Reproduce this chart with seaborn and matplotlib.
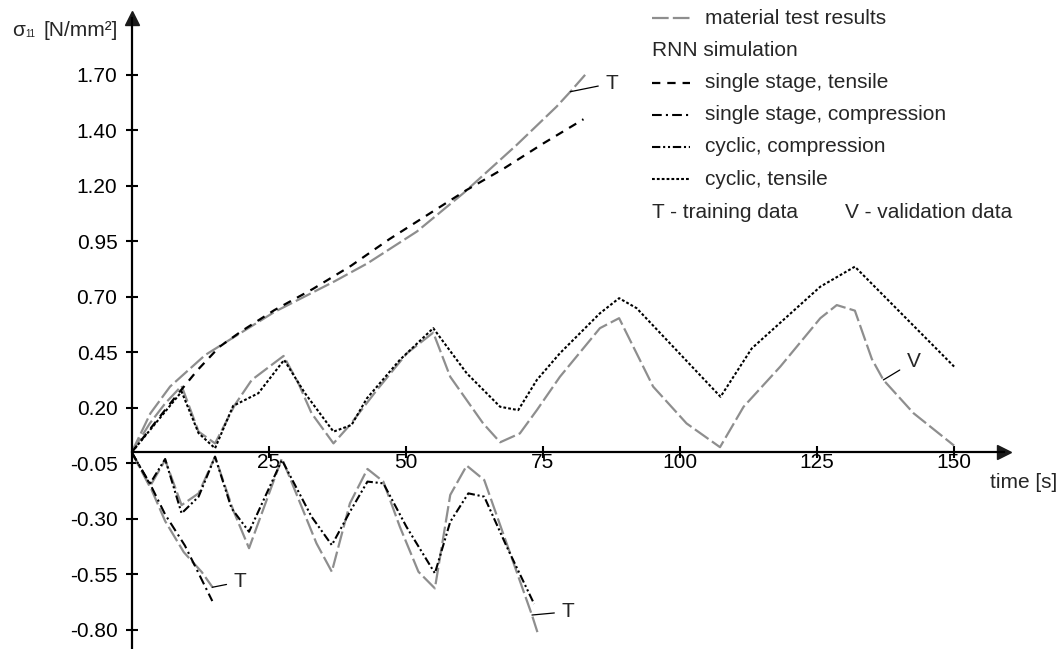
import matplotlib.pyplot as plt
from matplotlib.lines import Line2D
import seaborn as sns

# sigma_11 [N/mm2] over time [s]
# material test results (grey)
test_tensile_t = [0, 3.4, 7, 13.4, 18.8, 26.1, 37, 43, 52, 60.5, 70.2, 77.5, 80, 82.7]
test_tensile_s = [0, 0.175, 0.296, 0.438, 0.521, 0.633, 0.77, 0.851, 0.994, 1.167, 1.384, 1.557, 1.624, 1.70]

test_compr_t = [0, 3.3, 6.1, 9.5, 12.8, 14.8]
test_compr_s = [0, -0.15, -0.31, -0.45, -0.54, -0.61]

test_cyc_tensile_t = [0, 3.3, 6.1, 9.1, 12.2, 15.2, 18.8, 21.9, 27.7, 30.4, 32.8, 36.8, 39.8, 44.7, 50.2,
                      55, 58.1, 64.1, 67.2, 70.8, 73.9, 78.1, 85.4, 88.9, 95.1, 101.2, 107.3, 111.6,
                      118.3, 125.6, 128.6, 131.9, 135, 137.1, 142.6, 150]
test_cyc_tensile_s = [0, 0.13, 0.22, 0.299, 0.093, 0.04, 0.213, 0.326, 0.434, 0.311, 0.176, 0.04, 0.123,
                      0.28, 0.446, 0.539, 0.34, 0.13, 0.045, 0.085, 0.19, 0.34, 0.559, 0.604, 0.296,
                      0.13, 0.023, 0.205, 0.386, 0.604, 0.663, 0.638, 0.42, 0.326, 0.176, 0.03]

test_cyc_compr_t = [0, 3.3, 6.1, 9.1, 12.2, 15.2, 18.5, 21.4, 27.4, 33.7, 36.5, 39.8, 43, 45.9, 48.9,
                    52.3, 55.3, 58.1, 61.1, 64.3, 73.0, 74.0]
test_cyc_compr_s = [0, -0.155, -0.035, -0.238, -0.185, -0.02, -0.26, -0.432, -0.027, -0.41, -0.538,
                    -0.23, -0.075, -0.132, -0.335, -0.538, -0.613, -0.192, -0.06, -0.125, -0.733, -0.81]

# RNN simulation (black)
rnn_tensile_t = [0, 4, 8, 12, 16, 20, 26, 33, 40, 47, 54, 61, 68, 75, 82.4]
rnn_tensile_s = [0, 0.125, 0.25, 0.37, 0.475, 0.545, 0.64, 0.735, 0.84, 0.96, 1.07, 1.18, 1.28, 1.39, 1.50]

rnn_compr_t = [0, 3.3, 6.1, 9.7, 13.1, 14.7]
rnn_compr_s = [0, -0.14, -0.28, -0.42, -0.59, -0.67]

rnn_cyc_compr_t = [0, 3.3, 6.1, 9.1, 12.2, 15.2, 18.2, 21.4, 27.4, 32.8, 36.5, 39.8, 43, 45.9, 50.1,
                   55.3, 58.1, 61.4, 64.3, 68.4, 73.4]
rnn_cyc_compr_s = [0, -0.143, -0.03, -0.275, -0.2, -0.02, -0.252, -0.358, -0.035, -0.29, -0.418,
                   -0.268, -0.132, -0.14, -0.335, -0.545, -0.313, -0.185, -0.2, -0.425, -0.683]

rnn_cyc_tensile_t = [0, 9.1, 12.2, 15.2, 18.5, 23.1, 27.8, 31.6, 36.8, 40.1, 42.9, 48.9, 55, 61.1,
                     67.2, 70.5, 73.9, 78.1, 85.4, 88.9, 92.1, 107.4, 113.1, 125.6, 131.9, 150]
rnn_cyc_tensile_s = [0, 0.273, 0.086, 0.018, 0.209, 0.266, 0.416, 0.266, 0.093, 0.123, 0.243, 0.416,
                     0.559, 0.356, 0.205, 0.19, 0.326, 0.446, 0.626, 0.694, 0.649, 0.25, 0.468, 0.746,
                     0.836, 0.386]

x_ticks = [25, 50, 75, 100, 125, 150]
y_ticks = [-0.80, -0.55, -0.30, -0.05, 0.20, 0.45, 0.70, 0.95, 1.20, 1.45, 1.70]
y_tick_labels = ["-0.80", "-0.55", "-0.30", "-0.05", "0.20", "0.45", "0.70", "0.95", "1.20", "1.40", "1.70"]

sns.set_theme(style="ticks", rc={"lines.scale_dashes": False})
plt.rcParams["font.family"] = ["Liberation Sans", "DejaVu Sans"]

W, H = 1064, 649
fig = plt.figure(figsize=(W / 100, H / 100), dpi=100)
ax = fig.add_axes([131.7 / W, 0, (1004 - 131.7) / W, (H - 18) / H])

GREY = "#8e8e8e"
test_style = dict(color=GREY, lw=1.6, linestyle=(0, (12, 3)))
tensile_style = dict(color="black", lw=1.6, linestyle=(0, (6, 5)))
compr_style = dict(color="black", lw=1.5, linestyle=(0, (7, 3, 1.5, 3)))
cyc_compr_style = dict(color="black", lw=1.5, linestyle=(0, (6, 2, 1.5, 2, 1.5, 2)))
cyc_tensile_style = dict(color="black", lw=1.5, linestyle=(0, (2, 1.5)))

series = [
    (test_tensile_t, test_tensile_s, test_style),
    (test_compr_t, test_compr_s, test_style),
    (test_cyc_tensile_t, test_cyc_tensile_s, test_style),
    (test_cyc_compr_t, test_cyc_compr_s, test_style),
    (rnn_tensile_t, rnn_tensile_s, tensile_style),
    (rnn_compr_t, rnn_compr_s, compr_style),
    (rnn_cyc_compr_t, rnn_cyc_compr_s, cyc_compr_style),
    (rnn_cyc_tensile_t, rnn_cyc_tensile_s, cyc_tensile_style),
]
for t, s, style in series:
    sns.lineplot(x=t, y=s, ax=ax, sort=False, estimator=None, legend=False, **style)

ax.set_xlim(0, 159.1)
ax.set_ylim(-0.886, 1.956)
ax.spines[["top", "right"]].set_visible(False)
ax.spines["bottom"].set_position(("data", 0))
for side in ("left", "bottom"):
    ax.spines[side].set_linewidth(1.6)
    ax.spines[side].set_color("black")

ax.set_xticks(x_ticks)
ax.set_xticklabels([str(v) for v in x_ticks])
ax.set_yticks(y_ticks)
ax.set_yticklabels(y_tick_labels)
ax.tick_params(axis="both", direction="inout", length=8.5, width=1.5, labelsize=15, colors="black")
ax.tick_params(axis="x", pad=-4)
ax.tick_params(axis="y", pad=6)
ax.set_xlabel("")
ax.set_ylabel("")

# axis arrows
ax.plot(1, 0, ">k", ms=10, transform=ax.get_yaxis_transform(), clip_on=False)
ax.plot(0, 1, "^k", ms=10, transform=ax.get_xaxis_transform(), clip_on=False)

# T / V markers with leader lines
notes = [("T", (80, 1.624), (87.6, 1.662)),
         ("T", (14.7, -0.608), (19.8, -0.583)),
         ("T", (73.0, -0.733), (79.6, -0.718)),
         ("V", (137.1, 0.326), (142.6, 0.408))]
for txt, xy, xytext in notes:
    ax.annotate(txt, xy=xy, xytext=xytext, fontsize=15, ha="center", va="center",
                arrowprops=dict(arrowstyle="-", color="black", lw=0.9, shrinkA=3, shrinkB=0))

# axis labels
fig.text(12 / W, 1 - 36 / H, "σ", fontsize=15, ha="left", va="baseline")
fig.text(25 / W, 1 - 37 / H, "11", fontsize=7, ha="left", va="baseline")
fig.text(118 / W, 1 - 36 / H, "[N/mm²]", fontsize=15, ha="right", va="baseline")
fig.text(990 / W, 1 - 483 / H, "time [s]", fontsize=15, ha="left", va="center")

# legend drawn by hand (it has a header row and a footer row without handles)
lx0, lx1, tx = 652, 690, 705
rows = [(18, test_style, "material test results"),
        (83, tensile_style, "single stage, tensile"),
        (115, compr_style, "single stage, compression"),
        (147, cyc_compr_style, "cyclic, compression"),
        (179, cyc_tensile_style, "cyclic, tensile")]
for y, style, label in rows:
    fig.add_artist(Line2D([lx0 / W, lx1 / W], [1 - y / H, 1 - y / H], transform=fig.transFigure, **style))
    fig.text(tx / W, 1 - y / H, label, fontsize=15, ha="left", va="center")
fig.text(lx0 / W, 1 - 51 / H, "RNN simulation", fontsize=15, ha="left", va="center")
fig.text(lx0 / W, 1 - 213 / H, "T - training data", fontsize=15, ha="left", va="center")
fig.text(1012 / W, 1 - 213 / H, "V - validation data", fontsize=15, ha="right", va="center")

fig.savefig("out.png", dpi=100)
